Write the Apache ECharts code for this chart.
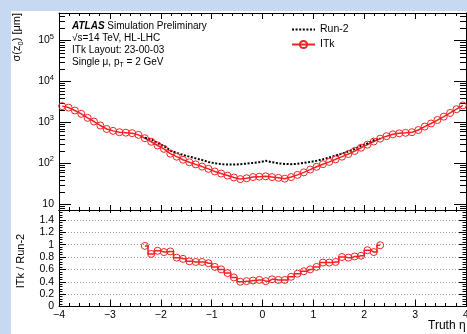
<!DOCTYPE html>
<html><head><meta charset="utf-8">
<script src="https://cdn.jsdelivr.net/npm/echarts@6/dist/echarts.min.js"></script>
<style>
html,body{margin:0;padding:0;background:#c6d9f0;}
#wrap{position:relative;width:467px;height:334px;overflow:hidden;background:#c6d9f0;}
#paper{position:absolute;left:11px;top:11px;width:456px;height:323px;background:#fff;}
#chart{position:absolute;left:0;top:0;width:467px;height:334px;}
</style></head><body>
<div id="wrap"><div id="paper"></div><div id="chart"></div></div>
<script>
const FONT = '"Liberation Sans", Arial, Helvetica, sans-serif';

// binning in truth eta
const etaMin = -4, etaMax = 4, binWidth = 0.125;

// sigma(z0) [um], ITk, one value per bin (64 bins)
const itkSigma = [2500, 2300, 1950, 1620, 1290, 1050, 840, 690, 620, 575,
  560, 545, 495, 410, 336, 272, 225, 172, 145, 122,
  106, 94, 83, 73, 63, 56, 50, 45, 41, 43,
  46, 47, 48, 46, 44, 42, 46, 52, 60, 70,
  82, 95, 108, 125, 145, 168, 200, 240, 285, 340,
  400, 460, 510, 540, 555, 575, 650, 790, 940, 1140,
  1380, 1700, 2100, 2600];

// Run-2 and ratio only defined from bin 13 to bin 50
const run2FirstBin = 13;
const run2Sigma = [420, 390, 310, 265, 205, 180, 160, 145, 132, 120,
  108, 100, 95, 93, 93, 95, 98, 102, 106, 115,
  106, 100, 96, 95, 97, 102, 108, 115, 125, 138,
  155, 172, 195, 225, 270, 305, 370, 400];
const ratioItkRun2 = [0.98, 0.85, 0.90, 0.88, 0.89, 0.79, 0.77, 0.73, 0.72, 0.72,
  0.70, 0.64, 0.60, 0.54, 0.47, 0.40, 0.41, 0.42, 0.43, 0.41,
  0.44, 0.43, 0.43, 0.48, 0.53, 0.57, 0.60, 0.64, 0.71, 0.71,
  0.72, 0.80, 0.79, 0.81, 0.82, 0.91, 0.88, 0.99];

const sigmaMin = 7.2, sigmaMax = 473000;
const ratioMin = 0, ratioMax = 1.56;

const seriesNames = ['Run-2', 'ITk'];
const infoLines = ['{b|ATLAS} {n|Simulation Preliminary}', '\u221As=14 TeV, HL-LHC', 'ITk Layout: 23-00-03', 'Single \u03BC, p{sub|T} = 2 GeV'];

const binCenter = i => etaMin + binWidth * (i + 0.5);
const itkData = itkSigma.map((v, i) => [binCenter(i), v]);
const run2Data = run2Sigma.map((v, j) => [binCenter(run2FirstBin + j), v]);
const ratioData = ratioItkRun2.map((v, j) => [binCenter(run2FirstBin + j), v]);

const logMinor = [];
for (let k = 0; k <= 5; k++) for (let m = 2; m <= 9; m++) {
  const v = m * Math.pow(10, k);
  if (v > sigmaMin && v < sigmaMax) logMinor.push(v);
}

const RED = '#ee2222';

function xAx(grid, pos, showLabel, tickLen, minorLen) {
  return {
    type: 'value', gridIndex: grid, position: pos, min: etaMin, max: etaMax, interval: 1,
    axisLine: { show: true, onZero: false, lineStyle: { color: '#000', width: 1 } },
    axisTick: { show: true, inside: true, length: tickLen, lineStyle: { color: '#000' } },
    minorTick: { show: true, splitNumber: 5, length: minorLen, lineStyle: { color: '#000' } },
    axisLabel: { show: showLabel, margin: 3, color: '#000', fontSize: 10.5, fontFamily: FONT,
      formatter: v => String(v).replace('-', '\u2212') },
    splitLine: { show: false }
  };
}
function isPow10(v) { const l = Math.log10(v); return Math.abs(l - Math.round(l)) < 1e-6; }
function logAx(pos) {
  return {
    type: 'log', logBase: 10, gridIndex: 0, position: pos, min: sigmaMin, max: sigmaMax, splitNumber: 5,
    axisLine: { show: true, onZero: false, lineStyle: { color: '#000', width: 1 } },
    axisTick: { show: true, inside: true, length: 12, lineStyle: { color: '#000' } },
    minorTick: { show: false },
    axisLabel: {
      show: pos === 'left', margin: 5, color: '#000',
      formatter: v => {
        if (!isPow10(v)) return '';
        const k = Math.round(Math.log10(v));
        return k === 1 ? '{n|10}' : '{n|10}{sup|' + k + '}';
      },
      rich: {
        n: { fontSize: 10.5, fontFamily: FONT, color: '#000' },
        sup: { fontSize: 7.5, fontFamily: FONT, color: '#000', padding: [0, 0, 8, 0] }
      }
    },
    splitLine: { show: false }
  };
}
function ratioAx(pos) {
  return {
    type: 'value', gridIndex: 1, position: pos, min: ratioMin, max: ratioMax, interval: 0.2,
    axisLine: { show: true, onZero: false, lineStyle: { color: '#000', width: 1 } },
    axisTick: { show: true, inside: true, length: 7, lineStyle: { color: '#000' } },
    minorTick: { show: true, splitNumber: 5, length: 3.5, lineStyle: { color: '#000' } },
    axisLabel: { show: pos === 'left', margin: 5, color: '#000', fontSize: 10.5, fontFamily: FONT,
      showMaxLabel: false, formatter: v => (Math.abs(v - ratioMax) < 1e-6 ? '' : String(+v.toFixed(1))) },
    splitLine: { show: pos === 'left', showMinLine: false, showMaxLine: false,
      lineStyle: { color: '#9a9a9a', width: 1, type: [1, 2] } }
  };
}

const chart = echarts.init(document.getElementById('chart'), null, { renderer: 'canvas' });
const infoY = [26, 38.5, 50.5, 62.5];
const richBase = { fontSize: 10, fontFamily: FONT, fill: '#000' };
chart.setOption({
  animation: false,
  backgroundColor: 'transparent',
  textStyle: { fontFamily: FONT },
  grid: [
    { left: 59, top: 13, width: 407, height: 197, containLabel: false, outerBoundsMode: 'none' },
    { left: 59, top: 210, width: 407, height: 96.5, containLabel: false, outerBoundsMode: 'none' }
  ],
  xAxis: [
    xAx(0, 'bottom', false, 5, 3),
    xAx(0, 'top', false, 6, 3),
    xAx(1, 'bottom', true, 7, 3.5),
    xAx(1, 'top', false, 3, 2)
  ],
  yAxis: [logAx('left'), logAx('right'), ratioAx('left'), ratioAx('right')],
  legend: {
    data: [
      { name: seriesNames[0], itemStyle: { color: 'rgba(0,0,0,0)', borderWidth: 0 } },
      { name: seriesNames[1] }
    ],
    orient: 'vertical', left: 291, top: 24, padding: 0,
    itemWidth: 23, itemHeight: 9, itemGap: 4, selectedMode: false,
    textStyle: { color: '#000', fontSize: 10.5, fontFamily: FONT }
  },
  series: [
    {
      name: 'ITk', type: 'line', xAxisIndex: 0, yAxisIndex: 0, data: itkData,
      symbol: 'circle', symbolSize: 7, showAllSymbol: true,
      lineStyle: { color: RED, width: 1.5 },
      itemStyle: { color: 'rgba(0,0,0,0)', borderColor: RED, borderWidth: 1 }
    },
    {
      name: 'Run-2', type: 'line', xAxisIndex: 0, yAxisIndex: 0, data: run2Data,
      symbol: 'none', lineStyle: { color: '#000', width: 2, type: [2, 1.6] },
      itemStyle: { color: '#000' }
    },
    {
      name: 'ratio', type: 'line', xAxisIndex: 2, yAxisIndex: 2, data: ratioData, step: 'middle',
      symbol: 'circle', symbolSize: 7, showAllSymbol: true,
      lineStyle: { color: RED, width: 1.5 },
      itemStyle: { color: 'rgba(0,0,0,0)', borderColor: RED, borderWidth: 1 }
    },
    {
      name: 'logMinorTicks', type: 'custom', xAxisIndex: 0, yAxisIndex: 0, silent: true, clip: false,
      data: logMinor.map(v => [etaMin, v]),
      renderItem: (params, api) => {
        const y = Math.round(api.coord([api.value(0), api.value(1)])[1]) + 0.5;
        const cs = params.coordSys;
        return { type: 'group', children: [
          { type: 'line', shape: { x1: cs.x, y1: y, x2: cs.x + 6, y2: y }, style: { stroke: '#000', lineWidth: 1 } },
          { type: 'line', shape: { x1: cs.x + cs.width - 6, y1: y, x2: cs.x + cs.width, y2: y }, style: { stroke: '#000', lineWidth: 1 } }
        ] };
      }
    }
  ],
  graphic: [
    ...infoLines.map((t, i) => ({
      type: 'text', x: 72, y: infoY[i],
      style: {
        text: t, verticalAlign: 'middle', align: 'left', fontSize: 10, fontFamily: FONT, fill: '#000',
        rich: {
          b: Object.assign({}, richBase, { fontWeight: 'bold', fontStyle: 'italic' }),
          n: Object.assign({}, richBase),
          sub: Object.assign({}, richBase, { fontSize: 7, padding: [6, 0, 0, 0] })
        }
      }
    })),
    {
      type: 'text', x: 17, y: 13, rotation: Math.PI / 2,
      style: {
        text: '{n|\u03C3(z}{sub|0}{n|) [\u03BCm]}', align: 'right', verticalAlign: 'middle',
        fontSize: 11, fontFamily: FONT, fill: '#000',
        rich: {
          n: { fontSize: 11, fontFamily: FONT, fill: '#000' },
          sub: { fontSize: 7.5, fontFamily: FONT, fill: '#000', padding: [7, 0, 0, 0] }
        }
      }
    },
    {
      type: 'text', x: 20.5, y: 261, rotation: Math.PI / 2,
      style: { text: 'ITk / Run-2', align: 'center', verticalAlign: 'middle', fontSize: 11, fontFamily: FONT, fill: '#000' }
    },
    {
      type: 'text', x: 428, y: 326,
      style: { text: 'Truth \u03B7', align: 'left', verticalAlign: 'middle', fontSize: 12, fontFamily: FONT, fill: '#000' }
    }
  ]
});
</script>
</body></html>
